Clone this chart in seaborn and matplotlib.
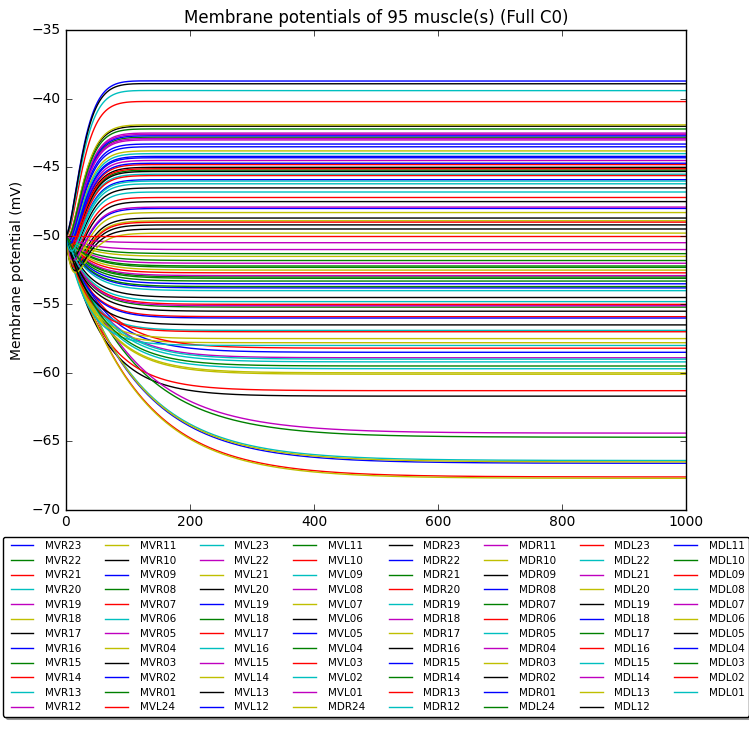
import numpy as np
import pandas as pd
import matplotlib
matplotlib.use("Agg")
import matplotlib.pyplot as plt
import seaborn as sns

names = ([f"MVR{i:02d}" for i in range(23, 0, -1)] + [f"MVL{i:02d}" for i in range(24, 0, -1)]
         + [f"MDR{i:02d}" for i in range(24, 0, -1)] + [f"MDL{i:02d}" for i in range(24, 0, -1)])

# steady-state membrane potentials (mV), estimated
finals = [-38.7, -42.8, -67.6, -66.4, -44.5, -60.0, -61.7, -66.6, -64.7, -61.3, -59.7, -64.4,
          -60.1, -48.7, -44.2, -45.2, -55.9, -59.2, -42.9, -67.7, -45.0, -58.5, -53.3,
          -40.2, -56.9, -42.6, -48.9, -49.2, -48.0, -53.0, -52.7, -54.0, -50.5, -66.5, -46.5,
          -53.5, -52.2, -47.2, -45.5, -58.9, -57.8, -42.0, -45.9, -51.3, -44.8, -39.4, -52.0,
          -41.9, -38.9, -42.7, -55.2, -58.2, -46.0, -52.9, -57.5, -54.5, -43.5, -51.8, -55.0,
          -58.0, -42.5, -51.5, -45.3, -44.7, -53.1, -49.0, -59.0, -43.0, -52.5, -47.5, -56.0,
          -42.2, -57.0, -46.8, -55.1, -43.8, -49.5, -53.8, -59.5, -45.6, -44.0, -51.0, -48.3,
          -55.5, -43.3, -52.3, -45.1, -54.8, -47.9, -49.8, -56.5, -44.3, -53.7, -50.0, -46.2]
# time constants (ms), estimated
taus = [22 if f > -50 else (110 if f < -63 else (60 if f < -58 else 35)) for f in finals]

t = np.linspace(0, 1000, 1001)
v0 = -50.0
rows = []
for n, f, tau in zip(names, finals, taus):
    if f > -50:
        v = f + (v0 - f) * np.exp(-t / tau) * np.cos(2 * np.pi * t / 300) - 2.8 * (t / 16) * np.exp(1 - t / 16)
    else:
        v = f + (v0 - f) * np.exp(-t / tau)
    rows.append(pd.DataFrame({"t": t, "v": v, "name": n}))
df = pd.concat(rows)

plt.style.use("classic")
fig = plt.figure(figsize=(7.49, 7.40), dpi=100, facecolor="white")
ax = fig.add_axes([0.088, 0.311, 0.828, 0.648])
cyc = list("bgrcmyk")
palette = {n: cyc[i % 7] for i, n in enumerate(names)}
sns.lineplot(data=df, x="t", y="v", hue="name", palette=palette, ax=ax, linewidth=1, legend=False)
for n in names:
    ax.plot([], [], color=palette[n], label=n)
ax.set_xlim(0, 1000)
ax.set_ylim(-70, -35)
ax.set_xticks([0, 200, 400, 600, 800, 1000])
ax.set_title("Membrane potentials of 95 muscle(s) (Full C0)", fontsize=12)
ax.set_xlabel("Time (ms)", fontsize=11)
ax.set_ylabel("Membrane potential (mV)", fontsize=10)
ax.tick_params(labelsize=10)
ax.legend(loc="upper center", bbox_to_anchor=(0.5, -0.045), ncol=8, fontsize=7.5,
          shadow=True, fancybox=True, handlelength=2.8, columnspacing=2.0, labelspacing=0.45)
fig.savefig("out.png", dpi=100, facecolor="white")
